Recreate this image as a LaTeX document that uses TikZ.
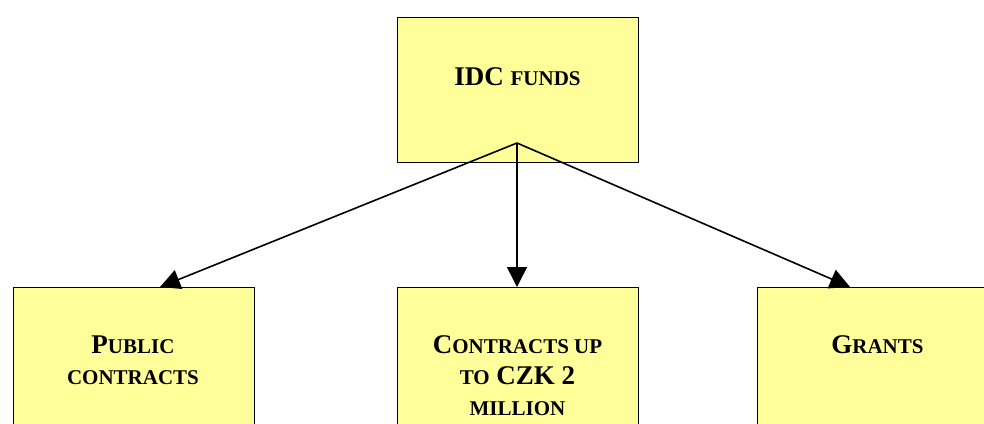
\documentclass[tikz,border=0pt]{standalone}
\usepackage{fontspec}
\setmainfont{Liberation Serif}
\usetikzlibrary{arrows.meta}
\definecolor{boxyellow}{HTML}{FFFF99}
\newcommand\scx[1]{{\fontsize{21}{31}\selectfont #1}}
\begin{document}
\begin{tikzpicture}[x=1pt,y=-1pt,
  box/.style={draw=black,fill=boxyellow,line width=1.4pt,minimum width=241pt,minimum height=145pt,anchor=north west,inner sep=0pt},
  lbl/.style={font=\fontsize{27}{31}\selectfont\bfseries,align=center,inner sep=0pt,anchor=north},
  arr/.style={line width=1.6pt,-{Triangle[length=20pt,width=20pt]}}]
\useasboundingbox (0,0) rectangle (984,423);
\clip (0,0) rectangle (984,423);
\fill[white] (0,0) rectangle (984,423);
\node[box] (top) at (397,17) {};
\node[box] (left) at (13,287) {};
\node[box] (mid) at (397,287) {};
\node[box] (right) at (757,287) {};
\coordinate (src) at (517,143);
\coordinate (tipl) at (160,287);
\coordinate (tipm) at (517,287);
\coordinate (tipr) at (850,287);
\draw[arr] (src) -- (tipl);
\draw[arr] (src) -- (tipm);
\draw[arr] (src) -- (tipr);
\node[lbl] (t0) at (517.5,67) {IDC \scx{FUNDS}};
\node[lbl] (t1) at (133,336) {P\scx{UBLIC}\\\scx{CONTRACTS}};
\node[lbl] (t2) at (517.5,335) {C\scx{ONTRACTS UP}\\\scx{TO} CZK 2\\\scx{MILLION}};
\node[lbl] (t3) at (877.5,335) {G\scx{RANTS}};
\end{tikzpicture}
\end{document}
